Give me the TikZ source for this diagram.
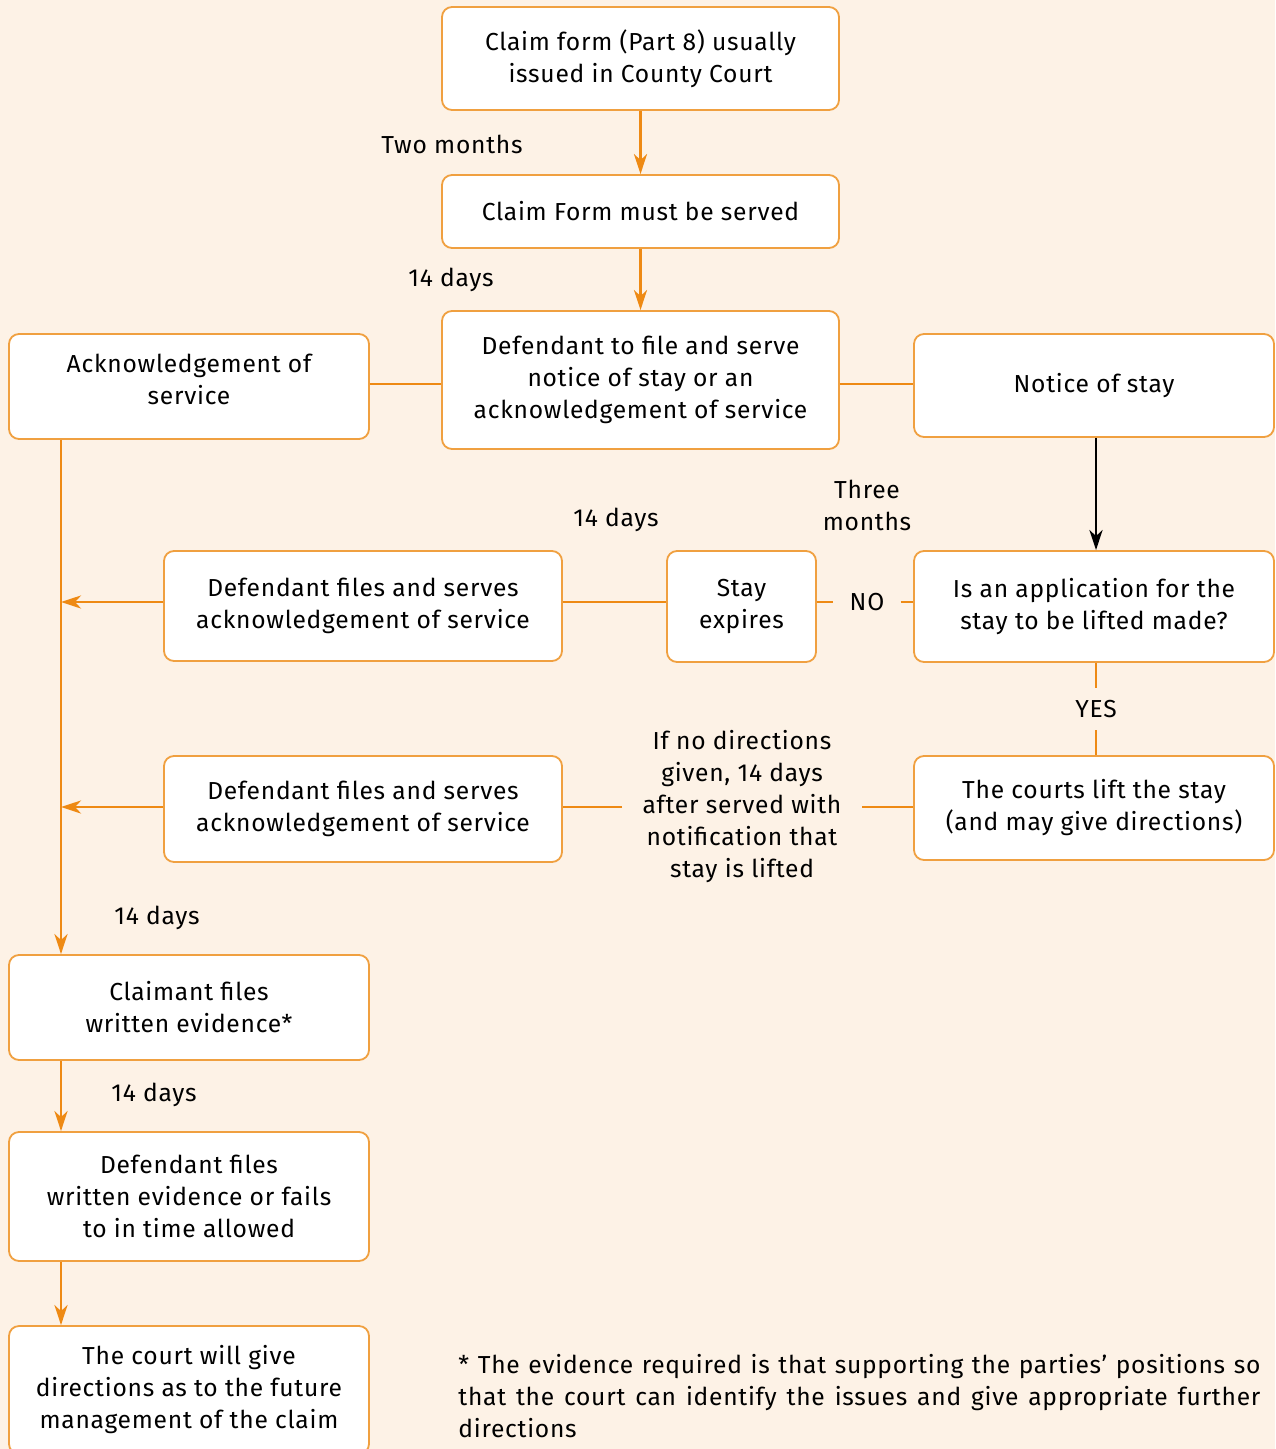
\documentclass[tikz,border=0pt]{standalone}
\usepackage{fontspec}
\setmainfont{Fira Sans}[LetterSpace=3]
\usetikzlibrary{arrows.meta}
\definecolor{bg}{HTML}{FDF2E6}
\definecolor{org}{HTML}{EE8A14}
\definecolor{bord}{HTML}{F0A040}
\newcommand{\myfs}{\fontsize{12.3}{16}\selectfont}
\newcommand{\fullline}[1]{\leavevmode\hbox to 401pt{\spaceskip=0.3em plus 1fil\relax #1}}
\begin{document}
\begin{tikzpicture}[x=0.5pt,y=-0.5pt,
  box/.style={draw=bord,line width=0.9pt,fill=white,rounded corners=5pt,align=center,inner sep=2pt,font=\myfs},
  lbl/.style={align=center,inner sep=1pt,font=\myfs},
  conn/.style={draw=org,line width=1.4pt},
  arr/.style={conn,-{Stealth[length=10pt,width=6.5pt,inset=3pt]}},
  barr/.style={draw=black,line width=1.4pt,-{Stealth[length=10pt,width=6.5pt,inset=3pt]}}]
\fill[bg] (0,0) rectangle (1275,1449);
\useasboundingbox (0,0) rectangle (1275,1449);
\begin{scope}
\clip (0,0) rectangle (1275,1449);
\node[box,minimum width=198.5pt,minimum height=51.5pt] (b1) at (640.5,58.5) {Claim form (Part 8) usually\\issued in County Court};
\node[box,minimum width=198.5pt,minimum height=36.5pt] (b2) at (640.5,211.5) {Claim Form must be served};
\node[box,minimum width=198.5pt,minimum height=69pt] (b3) at (640.5,380) {Defendant to file and serve\\notice of stay or an\\acknowledgement of service};
\node[box,minimum width=180pt,minimum height=52.5pt] (ack) at (189,386.5) {};
\node[lbl] (acktext) at (189,379) {Acknowledgement of\\service};
\node[box,minimum width=180pt,minimum height=51.5pt] (notice) at (1094,385.5) {Notice of stay};
\node[box,minimum width=180pt,minimum height=55.5pt] (app) at (1094,606.5) {Is an application for the\\stay to be lifted made?};
\node[box,minimum width=74.5pt,minimum height=55.5pt] (stay) at (741.5,606.5) {Stay\\expires};
\node[box,minimum width=199pt,minimum height=55pt] (d1) at (363,606) {Defendant files and serves\\acknowledgement of service};
\node[box,minimum width=180pt,minimum height=52pt] (lift) at (1094,808) {The courts lift the stay\\(and may give directions)};
\node[box,minimum width=199pt,minimum height=53pt] (d2) at (363,809) {Defendant files and serves\\acknowledgement of service};
\node[box,minimum width=180pt,minimum height=52.5pt] (claimant) at (189,1007.5) {Claimant files\\written evidence*};
\node[box,minimum width=180pt,minimum height=64.5pt] (deff) at (189,1196.5) {Defendant files\\written evidence or fails\\to in time allowed};
\node[box,minimum width=180pt,minimum height=64pt] (court) at (189,1390) {The court will give\\directions as to the future\\management of the claim};

\node[lbl] (l1) at (452,144) {Two months};
\node[lbl] (l2) at (451,280) {14 days};
\node[lbl] (l3) at (616,520) {14 days};
\node[lbl] (l4) at (867,505) {Three\\months};
\node[lbl,fill=bg,inner xsep=8pt] (no) at (867,602) {NO};
\node[lbl,fill=bg,inner ysep=6pt] (yes) at (1096,709) {YES};
\node[lbl,fill=bg,inner xsep=10pt] (ifno) at (742,807) {If no directions\\given, 14 days\\after served with\\notification that\\stay is lifted};
\node[lbl] (l5) at (157,918) {14 days};
\node[lbl] (l6) at (154,1095) {14 days};
\node[lbl,anchor=north west,text width=401pt,align=left] (foot) at (456,1352) {\fullline{* The evidence required is that supporting the parties’ positions so}\\\fullline{that the court can identify the issues and give appropriate further}\\directions};

\coordinate (vx) at (61,0);
\coordinate (r1) at (0,384);
\coordinate (r2) at (0,602);
\coordinate (r3) at (0,807);
\coordinate (cx) at (1096,0);
\draw[arr] (b1) -- (b2);
\draw[arr] (b2) -- (b3);
\draw[conn] (ack.east |- r1) -- (b3.west |- r1);
\draw[conn] (b3.east |- r1) -- (notice.west |- r1);
\draw[barr] (notice.south -| cx) -- (app.north -| cx);
\draw[conn] (stay.east |- r2) -- (no.west |- r2);
\draw[conn] (no.east |- r2) -- (app.west |- r2);
\draw[conn] (d1.east |- r2) -- (stay.west |- r2);
\draw[conn] (app.south -| cx) -- (yes.north -| cx);
\draw[conn] (yes.south -| cx) -- (lift.north -| cx);
\draw[conn] (lift.west |- r3) -- (ifno.east |- r3);
\draw[conn] (ifno.west |- r3) -- (d2.east |- r3);
\draw[arr] (d1.west |- r2) -- (vx |- r2);
\draw[arr] (d2.west |- r3) -- (vx |- r3);
\draw[arr] (ack.south -| vx) -- (claimant.north -| vx);
\draw[arr] (claimant.south -| vx) -- (deff.north -| vx);
\draw[arr] (deff.south -| vx) -- (court.north -| vx);
\end{scope}
\end{tikzpicture}
\end{document}
